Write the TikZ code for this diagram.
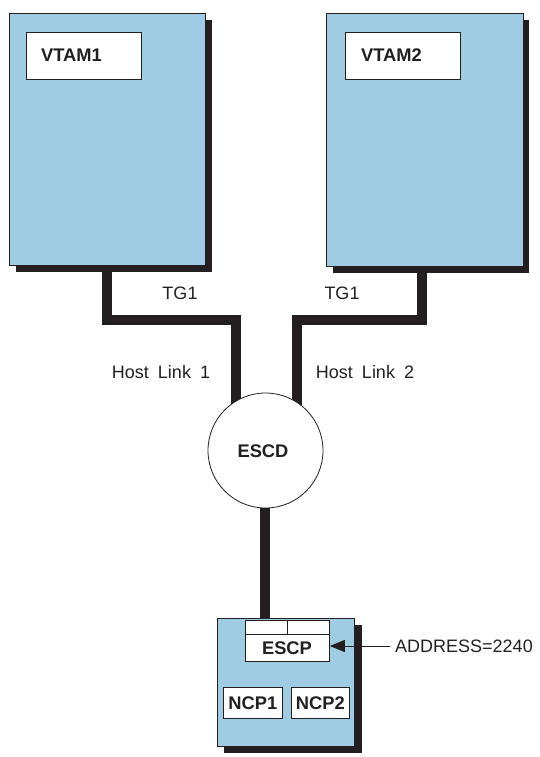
\documentclass[tikz,border=0pt]{standalone}
\usepackage{fontspec}
\setmainfont{Liberation Sans}
\usetikzlibrary{arrows.meta}
\definecolor{hostblue}{RGB}{159,204,227}
\definecolor{ink}{RGB}{35,31,32}
\tikzset{
  hostbox/.style={draw=ink, line width=0.8pt, fill=hostblue, inner sep=0pt, anchor=north west},
  whitebox/.style={draw=ink, line width=0.8pt, fill=white, inner sep=0pt, anchor=north west},
  shadowbox/.style={fill=ink},
  link/.style={draw=ink, line width=10pt},
  bold/.style={font=\bfseries\fontsize{18.3}{21}\selectfont, text=ink, inner sep=0pt},
  lbl/.style={font=\fontsize{18}{21}\selectfont, text=ink, inner sep=0pt},
}
\begin{document}
\begin{tikzpicture}[x=1pt,y=-1pt]
\useasboundingbox (0,0) rectangle (539,757);
% links (behind)
\coordinate (l1a) at (107,265);
\coordinate (l2a) at (422,265);
\coordinate (ctr) at (265.5,450.5);
\draw[link] (l1a) -- (107,319.5) -- (235.5,319.5) -- (235.5,450);
\draw[link] (l2a) -- (422,319.5) -- (296.5,319.5) -- (296.5,450);
\draw[link] (265,450) -- (265,625);
% host 1
\fill[shadowbox] (16,20) rectangle (212,272);
\node[hostbox, minimum width=196pt, minimum height=252pt] (host1) at (9,13) {};
\node[whitebox, minimum width=115pt, minimum height=47pt] (v1box) at (26,32) {};
\node[bold, anchor=west] (v1) at (41,55.5) {VTAM1};
% host 2
\fill[shadowbox] (333,20) rectangle (529,273);
\node[hostbox, minimum width=197pt, minimum height=253pt] (host2) at (326,13) {};
\node[whitebox, minimum width=115pt, minimum height=47pt] (v2box) at (345,32) {};
\node[bold, anchor=west] (v2) at (361,55.5) {VTAM2};
% ESCD
\node[circle, draw=ink, line width=0.8pt, fill=white, minimum size=115pt, inner sep=0pt] (escd) at (ctr) {};
\node[bold] (escdt) at (263,451) {ESCD};
% labels
\node[lbl] (tg1a) at (180,293) {TG1};
\node[lbl] (tg1b) at (342,293) {TG1};
\node[lbl] (hl1) at (161,372) {Host\hspace{9pt}Link\hspace{9pt}1};
\node[lbl] (hl2) at (365,372) {Host\hspace{9pt}Link\hspace{9pt}2};
% NCP box
\fill[shadowbox] (224,625) rectangle (362,753);
\node[hostbox, minimum width=137pt, minimum height=128pt] (ncp) at (217,618) {};
\node[whitebox, minimum width=84pt, minimum height=41pt] (escp) at (245,620) {};
\draw[ink, line width=0.8pt] (245,634) -- (329,634);
\draw[ink, line width=0.8pt] (287,620) -- (287,634);
\node[bold] (escpt) at (287,648) {ESCP};
\node[whitebox, minimum width=59pt, minimum height=31pt] (n1box) at (223,687) {};
\node[bold] (n1) at (n1box.center) {NCP1};
\node[whitebox, minimum width=58pt, minimum height=31pt] (n2box) at (291,687) {};
\node[bold] (n2) at (n2box.center) {NCP2};
% address
\node[lbl, anchor=west] (addr) at (395,646) {ADDRESS=2240};
\draw[ink, line width=1pt, -{Triangle[length=15pt, width=12pt]}] ([xshift=-5pt]addr.west) -- (escp.east |- addr.west);
\end{tikzpicture}
\end{document}
